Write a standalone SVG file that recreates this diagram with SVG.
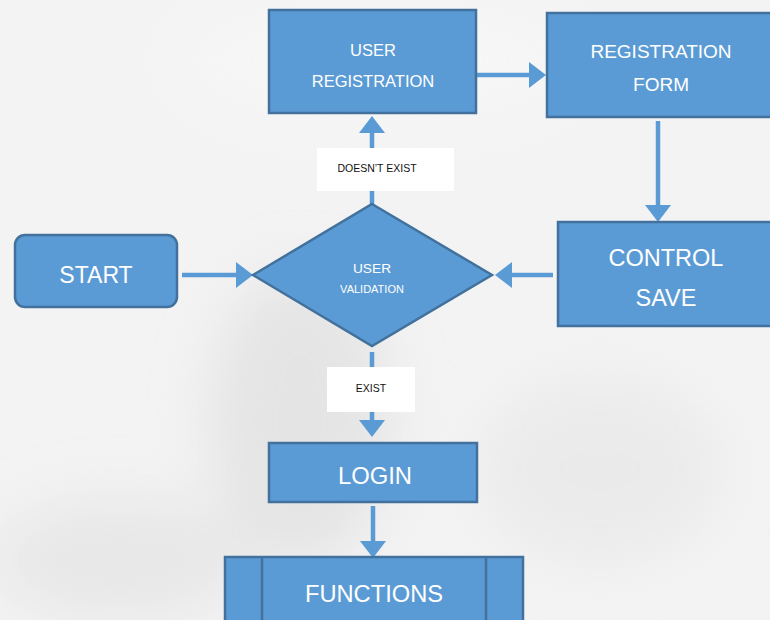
<svg xmlns="http://www.w3.org/2000/svg" width="770" height="620" viewBox="0 0 770 620">
<defs>
<style>
.box{fill:#5B9BD5;stroke:#41719C;stroke-width:2.5}
.conn{stroke:#5B9BD5;stroke-width:4.5;fill:none;marker-end:url(#ah)}
.t{font-family:"Liberation Sans",Arial,sans-serif;fill:#ffffff;text-anchor:middle}
.lbl{fill:#ffffff}
.lt{font-family:"Liberation Sans",Arial,sans-serif;fill:#111111;text-anchor:middle;font-size:10.5px}
</style>
<marker id="ah" markerUnits="userSpaceOnUse" markerWidth="18" markerHeight="28" refX="0" refY="14" orient="auto" viewBox="0 0 18 28">
<path d="M0,1 L17,14 L0,27 Z" fill="#5B9BD5"/>
</marker>
<filter id="blur" x="-50%" y="-50%" width="200%" height="200%"><feGaussianBlur stdDeviation="30"/></filter>
</defs>
<rect x="0" y="0" width="770" height="620" fill="#f3f3f3"/>
<g filter="url(#blur)" opacity="0.5">
<ellipse cx="380" cy="60" rx="200" ry="60" fill="#fbfbfb"/>
<ellipse cx="300" cy="420" rx="90" ry="150" fill="#d6d6d6"/>
<ellipse cx="120" cy="560" rx="130" ry="60" fill="#dcdcdc"/>
<ellipse cx="600" cy="470" rx="120" ry="90" fill="#e2e2e2"/>
</g>
<g id="connectors">
<line class="conn" x1="182" y1="275" x2="236" y2="275"/>
<line class="conn" x1="553" y1="275" x2="512" y2="275"/>
<line class="conn" x1="372" y1="204" x2="372" y2="133"/>
<line class="conn" x1="477" y1="75" x2="529" y2="75"/>
<line class="conn" x1="658" y1="121" x2="658" y2="205"/>
<line class="conn" x1="372" y1="352" x2="372" y2="420"/>
<line class="conn" x1="373" y1="506" x2="373" y2="541"/>
</g>
<g id="label-doesnt-exist">
<rect class="lbl" x="317" y="148" width="137" height="43"/>
<text class="lt" x="377" y="172">DOESN’T EXIST</text>
</g>
<g id="label-exist">
<rect class="lbl" x="327" y="367" width="88" height="45"/>
<text class="lt" x="371" y="392">EXIST</text>
</g>
<g id="user-registration">
<rect class="box" x="269" y="10" width="207" height="103"/>
<text class="t" x="373" y="56" font-size="16.5">USER</text>
<text class="t" x="373" y="87" font-size="16.5">REGISTRATION</text>
</g>
<g id="registration-form">
<rect class="box" x="547" y="13" width="235" height="104"/>
<text class="t" x="661" y="58" font-size="19">REGISTRATION</text>
<text class="t" x="661" y="91" font-size="19">FORM</text>
</g>
<g id="control-save">
<rect class="box" x="558" y="222" width="225" height="104"/>
<text class="t" x="666" y="266" font-size="23.5">CONTROL</text>
<text class="t" x="666" y="306" font-size="23.5">SAVE</text>
</g>
<g id="start">
<rect class="box" x="15" y="235" width="162" height="72" rx="10" ry="10"/>
<text class="t" x="96" y="283" font-size="23">START</text>
</g>
<g id="user-validation">
<polygon class="box" points="372,204 492,275 372,346 253,275"/>
<text class="t" x="372" y="273" font-size="13.7">USER</text>
<text class="t" x="372" y="293" font-size="11">VALIDATION</text>
</g>
<g id="login">
<rect class="box" x="269" y="443" width="208" height="59"/>
<text class="t" x="375" y="484" font-size="23.8">LOGIN</text>
</g>
<g id="functions">
<rect class="box" x="225" y="557" width="298" height="70"/>
<line x1="262" y1="557" x2="262" y2="627" stroke="#41719C" stroke-width="2.5"/>
<line x1="486" y1="557" x2="486" y2="627" stroke="#41719C" stroke-width="2.5"/>
<text class="t" x="374" y="602" font-size="23.7">FUNCTIONS</text>
</g>
</svg>
